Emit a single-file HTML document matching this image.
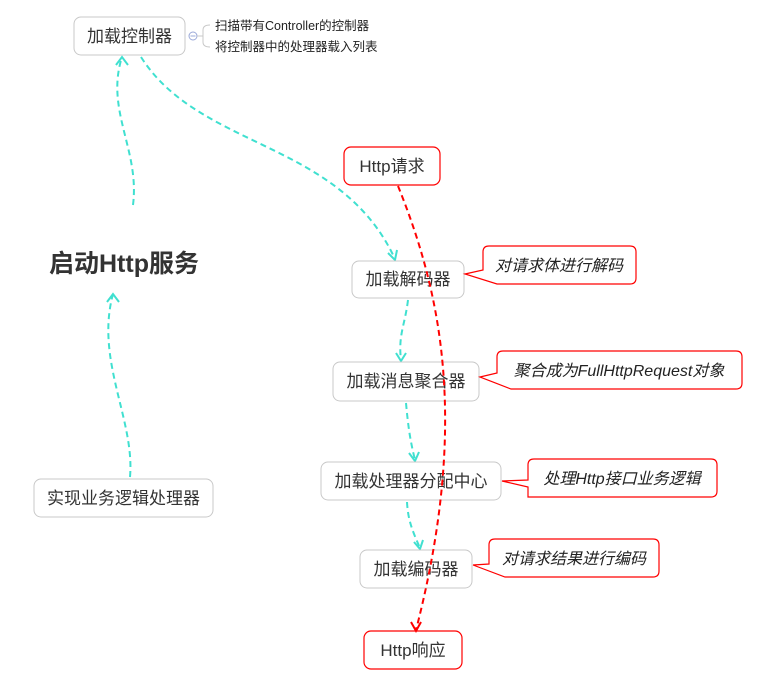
<!DOCTYPE html>
<html><head><meta charset="utf-8"><style>
html,body{margin:0;padding:0;background:#fff;}
svg{display:block;font-family:"Liberation Sans","Noto Sans CJK SC",sans-serif;}
.n{fill:#fff;stroke:#c8c8c8;stroke-width:1;}
.r{fill:#fff;stroke:#ff0000;stroke-width:1.2;}
.t{font-size:17px;fill:#333;text-anchor:middle;}
.c{font-size:16px;fill:#222;font-style:italic;text-anchor:middle;}
.tl{stroke:#40e0d0;stroke-width:2;fill:none;stroke-dasharray:6,4;}
.rl{stroke:#ff0000;stroke-width:2;fill:none;stroke-dasharray:6,4;}
.ta{stroke:#40e0d0;stroke-width:2;fill:none;}
.ra{stroke:#ff0000;stroke-width:2;fill:none;}
</style></head><body>
<svg width="758" height="687" viewBox="0 0 758 687" xmlns="http://www.w3.org/2000/svg">
<!-- teal connectors -->
<path class="tl" d="M130,477 C135,420 95,360 113,294"/>
<path class="ta" d="M107,302 L113,294 L119,302"/>
<path class="tl" d="M133,205 C140,150 105,110 122,57"/>
<path class="ta" d="M116,65 L122,57 L128,65"/>
<path class="tl" d="M141,57 C200,150 340,140 395,259"/>
<path class="ta" d="M388,253 L395,260 L397,250"/>
<path class="tl" d="M408,300 C405,325 398,335 401,360"/>
<path class="ta" d="M396,353 L401,361 L406,353"/>
<path class="tl" d="M406,403 C408,425 410,440 415,460"/>
<path class="ta" d="M409,453 L415,461 L419,452"/>
<path class="tl" d="M407,502 C408,520 412,530 420,548"/>
<path class="ta" d="M414,542 L420,549 L423,540"/>
<!-- nodes -->
<rect class="n" x="74" y="17" width="111" height="38" rx="7"/>
<text class="t" x="129.5" y="42">加载控制器</text>
<circle cx="193" cy="36" r="4" fill="#fff" stroke="#9aa8d8" stroke-width="1"/>
<line x1="190.5" y1="36" x2="195.5" y2="36" stroke="#9aa8d8"/>
<path d="M210,25 Q203,25 203,30 L203,42 Q203,47 210,47" fill="none" stroke="#c8c8c8"/>
<line x1="197" y1="36" x2="203" y2="36" stroke="#c8c8c8"/>
<text x="215" y="30" font-size="12.5" fill="#222">扫描带有Controller的控制器</text>
<text x="215" y="51" font-size="12.5" fill="#222">将控制器中的处理器载入列表</text>

<rect class="r" x="344" y="147" width="96" height="38" rx="7"/>
<text class="t" x="392" y="172">Http请求</text>

<text x="124" y="272" font-size="25" font-weight="bold" fill="#333" text-anchor="middle">启动Http服务</text>

<rect class="n" x="352" y="261" width="112" height="37" rx="7"/>
<text class="t" x="408" y="285">加载解码器</text>
<rect class="n" x="333" y="362" width="146" height="39" rx="7"/>
<text class="t" x="406" y="387">加载消息聚合器</text>
<rect class="n" x="321" y="462" width="180" height="38" rx="7"/>
<text class="t" x="411" y="487">加载处理器分配中心</text>
<rect class="n" x="360" y="550" width="112" height="38" rx="7"/>
<text class="t" x="416" y="575">加载编码器</text>
<rect class="r" x="364" y="631" width="98" height="38" rx="7"/>
<text class="t" x="413" y="656">Http响应</text>
<rect class="n" x="34" y="479" width="179" height="38" rx="7"/>
<text class="t" x="123.5" y="504">实现业务逻辑处理器</text>

<!-- red connector on top -->
<path class="rl" d="M398,186 C440,290 470,420 416,630"/>
<path class="ra" d="M411,622 L416,631 L421,622"/>

<!-- callouts -->
<path class="r" d="M465,274 L483,270 L483,252 Q483,246 489,246 L630,246 Q636,246 636,252 L636,278 Q636,284 630,284 L497,284 Z"/>
<text class="c" x="559" y="271">对请求体进行解码</text>
<path class="r" d="M480,377 L497,373 L497,357 Q497,351 503,351 L736,351 Q742,351 742,357 L742,383 Q742,389 736,389 L511,389 Z"/>
<text class="c" x="619" y="376">聚合成为FullHttpRequest对象</text>
<path class="r" d="M502,481 L528,480 L528,465 Q528,459 534,459 L711,459 Q717,459 717,465 L717,491 Q717,497 711,497 L528,497 L528,487 Z"/>
<text class="c" x="622" y="484">处理Http接口业务逻辑</text>
<path class="r" d="M473,565 L489,564 L489,545 Q489,539 495,539 L653,539 Q659,539 659,545 L659,571 Q659,577 653,577 L505,577 Z"/>
<text class="c" x="574" y="564">对请求结果进行编码</text>
</svg>
</body></html>
